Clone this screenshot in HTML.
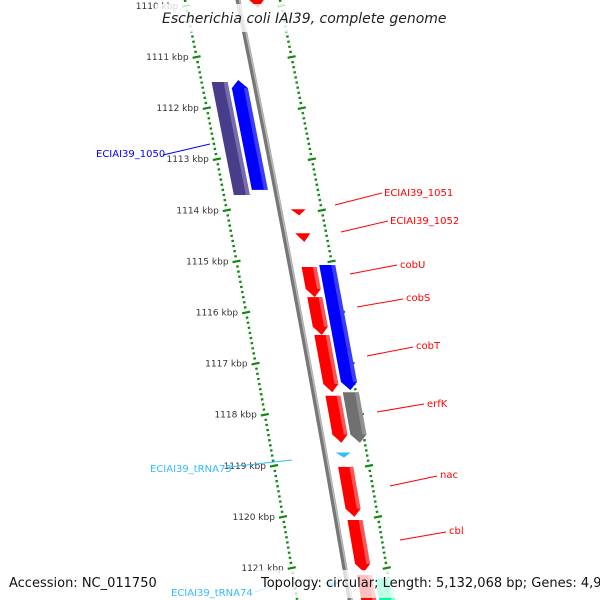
<!DOCTYPE html>
<html><head><meta charset="utf-8"><style>
html,body{margin:0;padding:0;background:#fff}
svg{display:block;font-family:"DejaVu Sans","Liberation Sans",sans-serif}
</style></head><body>
<svg id="map" width="600" height="600" viewBox="0 0 600 600">
<g id="rings"></g>
<g id="backbone"></g>
<g id="genes"></g>
<g id="labels"></g>
<rect x="155" y="4" width="290" height="28" fill="#fff" fill-opacity="0.8"/>
<text x="162" y="23" font-size="14" font-style="italic" fill="#222">Escherichia coli IAI39, complete genome</text>
<rect x="255" y="570" width="345" height="28" fill="#fff" fill-opacity="0.75"/>
<text x="9" y="587" font-size="13" fill="#111">Accession: NC_011750</text>
<text x="261" y="587" font-size="13" fill="#111">Topology: circular; Length: 5,132,068 bp; Genes: 4,937</text>
</svg>
<script>
const NS="http://www.w3.org/2000/svg";
// data
const geneNames=["top-red","ECIAI39_1050","ECIAI39_1050b","ECIAI39_1051","ECIAI39_1052","cobU","cobS","cobT","erfK","nac","cbl","bottom-red","cob-blue","erfK-gray","bottom-green","ECIAI39_tRNA75","ECIAI39_tRNA74"];
const geneStart=[1109.7,1111.49,1111.45,1113.98,1114.45,1115.11,1115.70,1116.44,1117.63,1119.02,1120.06,1121.14,1115.07,1117.56,1121.2,1118.74,1121.28];
const geneEnd=[1110.04,1113.70,1113.60,1114.1,1114.62,1115.70,1116.44,1117.56,1118.55,1120.00,1121.08,1121.9,1117.52,1118.55,1121.9,1118.84,1121.38];
const geneStrand=[1,0,-1,1,1,1,1,1,1,1,1,1,1,1,1,1,1];
const geneLane=[0,-2,-1,0,0,0,0,0,0,0,0,0,1,1,1,0,-1];
const geneColor=["#ff0000","#483d8b","#0000ff","#ff0000","#ff0000","#ff0000","#ff0000","#ff0000","#ff0000","#ff0000","#ff0000","#ff0000","#0000ff","#707070","#00ff9f","#33bbff","#33bbff"];
const tickMajor=[1110,1111,1112,1113,1114,1115,1116,1117,1118,1119,1120,1121];
const labelText=["ECIAI39_1050","ECIAI39_1051","ECIAI39_1052","cobU","cobS","cobT","erfK","nac","cbl","ECIAI39_tRNA75","ECIAI39_tRNA74"];
const labelGene=[1,3,4,5,6,7,8,9,10,15,16];

function Y(k){return 57+(k-1111)*51.1;}
function BX(y){return 238+0.205*y-0.00003*y*y;}
function P(k,off){const y=Y(k);return [BX(y)+off,y];}
function el(tag,attrs,parent){const e=document.createElementNS(NS,tag);for(const a in attrs)e.setAttribute(a,attrs[a]);parent.appendChild(e);return e;}
const laneOff={"-2":[-43,-27],"-1":[-24,-8],"0":[11,26],"1":[29,45]};

// rings
const rings=document.getElementById('rings');
for(let t=1109.5;t<=1121.95;t+=0.1){
  const k=Math.round(t*10)/10;
  const major=Math.abs(k-Math.round(k))<0.01;
  [-53,42].forEach((off,ri)=>{
    const [x,y]=P(k,off);
    const len=major?8:2.5;
    const tk=el('line',{x1:x-len/2,y1:y+len*0.1,x2:x+len/2,y2:y-len*0.1,stroke:'#118811','stroke-width':major?2.2:2.2},rings);
    
    
  });
}
tickMajor.forEach(k=>{
  const [x,y]=P(k,-53);
  const t=el('text',{x:x-8,y:y+3,'font-size':9,fill:'#333','text-anchor':'end'},rings);
  t.textContent=k+' kbp';
  
  
});

// backbone
const bb=document.getElementById('backbone');
let d1='',d2='';
for(let y=-10;y<=610;y+=10){d1+=(y==-10?'M':'L')+BX(y)+','+y+' ';}
const bl=el('path',{d:d1,fill:'none',stroke:'#777','stroke-width':5},bb);


const bl2=el('path',{d:d1,fill:'none',stroke:'#bbb','stroke-width':1.5,transform:'translate(1.5,0)'},bb);



// genes
const gg=document.getElementById('genes');
function lighten(c){return c=='#ff0000'?'#ff7777':c=='#0000ff'?'#5555ff':c=='#483d8b'?'#8a80c0':c=='#707070'?'#a0a0a0':c=='#00ff9f'?'#aaffdd':'#99ddff';}
geneNames.forEach((n,i)=>{
  const [o1,o2]=laneOff[geneLane[i]];
  const s=geneStart[i],e=geneEnd[i],st=geneStrand[i];
  let pts;
  const isTri=(e-s)<0.2;
  if(isTri){
    const a=P(s,o1),b=P(s,o2),c=P(e,(o1+o2)/2);
    pts=[a,b,c];
  }else if(st===0){
    pts=[P(s,o1),P(s,o2),P(e,o2),P(e,o1)];
  }else{
    const hk=0.16;
    if(st===1){pts=[P(s,o1),P(s,o2),P(e-hk,o2),P(e,(o1+o2)/2),P(e-hk,o1)];}
    else{pts=[P(s+hk,o1),P(s,(o1+o2)/2),P(s+hk,o2),P(e,o2),P(e,o1)];}
  }
  const g=el('g',{},gg);
  
  
  el('polygon',{points:pts.map(p=>p.join(',')).join(' '),fill:geneColor[i]},g);
  if(!isTri){
    const w=(o2-o1)*0.25;
    const hl=el('polygon',{points:[P(s+(st==-1?0.16:0),o2-w),P(s+(st==-1?0.16:0),o2),P(e-(st==1?0.16:0),o2),P(e-(st==1?0.16:0),o2-w)].map(p=>p.join(',')).join(' '),fill:lighten(geneColor[i]),'fill-opacity':0.7},g);
  }
});

// labels
const lg=document.getElementById('labels');
const labelPos=[[96,157,'l',163,155,210,144],[384,196,'r',335,205,382,193],[390,224,'r',341,232,388,221],[400,268,'r',350,274,397,265],[406,301,'r',357,307,403,299],[416,349,'r',367,356,413,347],[427,407,'r',377,412,424,404],[440,478,'r',390,486,437,476],[449,534,'r',400,540,446,532],[150,472,'l',229,467,292,460],[171,596,'l',255,592,275,585]];
labelText.forEach((t,i)=>{
  const c=geneColor[labelGene[i]]=='#483d8b'?'#0000ff':geneColor[labelGene[i]];
  const p=labelPos[i];
  const g=el('g',{},lg);
  
  
  el('line',{x1:p[3],y1:p[4],x2:p[5],y2:p[6],stroke:c,'stroke-width':1},g);
  const tx=el('text',{x:p[0],y:p[1],'font-size':10,fill:c},g);
  tx.textContent=t;
});
</script>
</body></html>
